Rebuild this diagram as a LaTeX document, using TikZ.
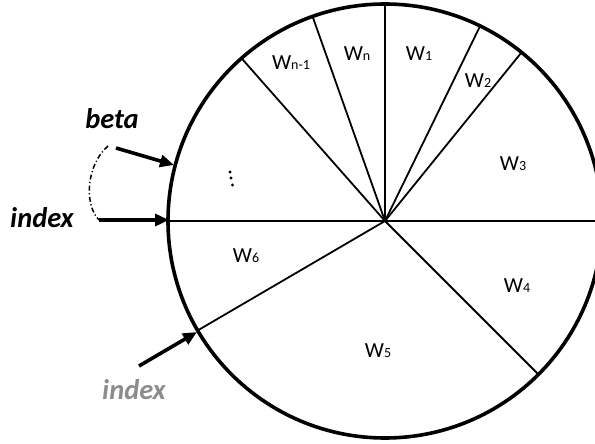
\documentclass[tikz,border=0pt]{standalone}
\usepackage{fontspec}
\setmainfont{Carlito}
\usetikzlibrary{arrows.meta}
\begin{document}
\begin{tikzpicture}[x=1pt,y=-1pt,
  rim/.style={line width=3.6pt},
  spoke/.style={line width=1.8pt},
  wlab/.style={inner sep=0pt,font=\fontsize{21.5}{21.5}\selectfont},
  tag/.style={inner sep=0pt,font=\fontsize{28.5}{28.5}\selectfont\bfseries\itshape},
  pointer/.style={line width=3.6pt,-{Triangle[length=14pt,width=12pt]}},
  bracket/.style={line width=1.5pt,dash pattern=on 5pt off 2.5pt on 1.2pt off 2.5pt}]
\useasboundingbox (0,0) rectangle (595,444);
\clip (0,0) rectangle (595,444);
\coordinate (c) at (385,221);
\def\R{217}
% spokes (y axis points down, so angles are negated)
\foreach \a in {-90,-109.5,-131.4,-64,-51,45,-210.3}
  \draw[spoke] (c) -- ++(\a:\R);
\draw[spoke] (c) ++(180:\R) coordinate (lft) -- (c) -- ++(0:\R);
\draw[rim] (c) circle (\R);
% segment labels
\newcommand{\wsub}[1]{{\fontsize{14}{14}\selectfont #1}}
\node[wlab] (wn1) at (291,63) {W\wsub{n-1}};
\node[wlab] (wn) at (357,54) {W\wsub{n}};
\node[wlab] (w1) at (419,54) {W\wsub{1}};
\node[wlab] (w2) at (478,81) {W\wsub{2}};
\node[wlab] (w3) at (513,164) {W\wsub{3}};
\node[wlab] (w4) at (517,286) {W\wsub{4}};
\node[wlab] (w5) at (378,351) {W\wsub{5}};
\node[wlab] (w6) at (246,256) {W\wsub{6}};
% dots
\fill (230,172) circle (1.6) (231,178) circle (1.6) (232.5,185) circle (1.6);
% outer labels
\node[tag] (beta) at (112,119) {beta};
\node[tag] (idx) at (42,218) {index};
\node[tag,text=black!45] (idx2) at (134,390) {index};
\coordinate (b0) at (116,148);
\coordinate (b1) at (174,165);
\coordinate (i0) at (99,220);
\coordinate (i1) at (169,220);
\coordinate (l0) at (139,366);
\coordinate (l1) at (197,332);
\draw[pointer] (b0) -- (b1);
\draw[pointer] (i0) -- (i1);
\draw[pointer] (l0) -- (l1);
\draw[bracket] (108,146) .. controls (86,165) and (84,205) .. (i0);
\end{tikzpicture}
\end{document}
